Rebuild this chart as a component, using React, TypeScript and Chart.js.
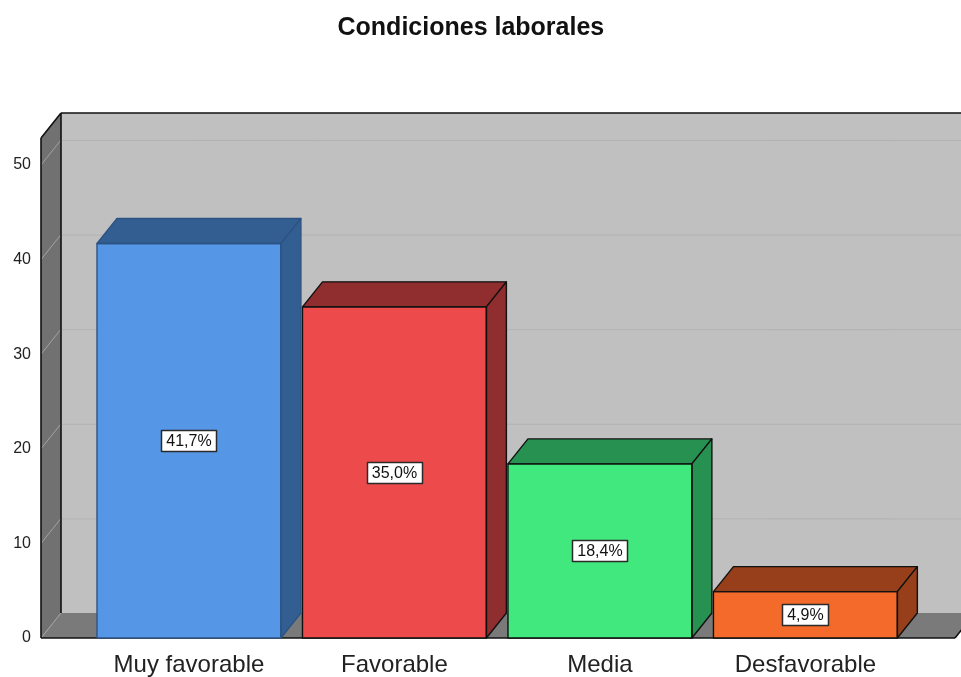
import React, { useEffect, useRef } from "react";
import { Chart, registerables } from "chart.js";

Chart.register(...registerables);

// Survey results: share of respondents per rating of working conditions
const TITLE = "Condiciones laborales";
const CATEGORIES = ["Muy favorable", "Favorable", "Media", "Desfavorable"];
const PERCENTAGES = [41.7, 35.0, 18.4, 4.9];
const Y_TICKS = [0, 10, 20, 30, 40, 50];

const FRONT_COLORS = ["#5596e6", "#ed4a4c", "#41e87e", "#f36a2b"];
const SHADE_COLORS = ["#335e91", "#8f2d2f", "#279151", "#963f1a"];
const EDGE_COLORS = ["#2c5384", "#111111", "#111111", "#111111"];

const FONT = "'Liberation Sans', Arial, sans-serif";
const DEPTH_X = 20;
const DEPTH_Y = 25;

const formatPct = (v: number) => v.toFixed(1).replace(".", ",") + "%";

function poly(ctx: CanvasRenderingContext2D, pts: number[][]) {
  ctx.beginPath();
  ctx.moveTo(pts[0][0], pts[0][1]);
  for (let i = 1; i < pts.length; i++) ctx.lineTo(pts[i][0], pts[i][1]);
  ctx.closePath();
}

function line(ctx: CanvasRenderingContext2D, x0: number, y0: number, x1: number, y1: number) {
  ctx.beginPath();
  ctx.moveTo(x0, y0);
  ctx.lineTo(x1, y1);
  ctx.stroke();
}

// Back wall, side wall, floor and grid of the 3D box
const boxPlugin = {
  id: "box3d",
  beforeDatasetsDraw(chart: any) {
    const { ctx, chartArea, scales } = chart;
    const { left, right, top, bottom } = chartArea;
    const yScale = scales.y;
    ctx.save();
    // back wall
    ctx.fillStyle = "#c0c0c0";
    ctx.fillRect(left + DEPTH_X, top - DEPTH_Y, right - left, bottom - top);
    // left wall
    ctx.fillStyle = "#717171";
    poly(ctx, [[left, top], [left + DEPTH_X, top - DEPTH_Y], [left + DEPTH_X, bottom - DEPTH_Y], [left, bottom]]);
    ctx.fill();
    // floor
    ctx.fillStyle = "#7a7a7a";
    poly(ctx, [[left, bottom], [left + DEPTH_X, bottom - DEPTH_Y], [right + DEPTH_X, bottom - DEPTH_Y], [right, bottom]]);
    ctx.fill();

    // grid lines
    ctx.lineWidth = 1;
    for (const v of Y_TICKS) {
      const py = yScale.getPixelForValue(v);
      if (v > 0) {
        ctx.strokeStyle = "#b2b2b2";
        line(ctx, left + DEPTH_X, py - DEPTH_Y + 0.5, right + DEPTH_X, py - DEPTH_Y + 0.5);
      }
      ctx.strokeStyle = "#a3a3a3";
      line(ctx, left, py, left + DEPTH_X, py - DEPTH_Y);
    }

    // box edges
    ctx.strokeStyle = "#111111";
    ctx.lineWidth = 1.6;
    line(ctx, left, top, left, bottom);
    line(ctx, left, bottom, right, bottom);
    line(ctx, left, top, left + DEPTH_X, top - DEPTH_Y);
    line(ctx, left + DEPTH_X, top - DEPTH_Y, right + DEPTH_X, top - DEPTH_Y);
    line(ctx, left + DEPTH_X, top - DEPTH_Y, left + DEPTH_X, bottom - DEPTH_Y);
    line(ctx, right, bottom, right + DEPTH_X, bottom - DEPTH_Y);
    ctx.restore();
  },
  afterDatasetsDraw(chart: any) {
    const { ctx } = chart;
    const meta = chart.getDatasetMeta(0);
    ctx.save();
    meta.data.forEach((bar: any, i: number) => {
      const { x, y, base, width } = bar.getProps(["x", "y", "base", "width"], true);
      const x0 = x - width / 2;
      const x1 = x + width / 2;
      ctx.fillStyle = SHADE_COLORS[i];
      ctx.strokeStyle = EDGE_COLORS[i];
      ctx.lineWidth = 1.4;
      ctx.lineJoin = "round";
      // top face
      poly(ctx, [[x0, y], [x0 + DEPTH_X, y - DEPTH_Y], [x1 + DEPTH_X, y - DEPTH_Y], [x1, y]]);
      ctx.fill();
      ctx.stroke();
      // side face
      poly(ctx, [[x1, y], [x1 + DEPTH_X, y - DEPTH_Y], [x1 + DEPTH_X, base - DEPTH_Y], [x1, base]]);
      ctx.fill();
      ctx.stroke();
      // front outline
      ctx.strokeRect(x0, y, width, base - y);
    });

    // value labels in the middle of each front face
    ctx.font = `16px ${FONT}`;
    ctx.textAlign = "center";
    ctx.textBaseline = "middle";
    meta.data.forEach((bar: any, i: number) => {
      const { x, y, base } = bar.getProps(["x", "y", "base"], true);
      const text = formatPct(PERCENTAGES[i]);
      const cy = (y + base) / 2;
      const w = Math.round(ctx.measureText(text).width) + 10;
      const h = 21;
      const bx = Math.round(x - w / 2) + 0.5;
      const by = Math.round(cy - h / 2) + 0.5;
      ctx.fillStyle = "#ffffff";
      ctx.fillRect(bx, by, w, h);
      ctx.strokeStyle = "#2a2a2a";
      ctx.lineWidth = 1.5;
      ctx.strokeRect(bx, by, w, h);
      ctx.fillStyle = "#111111";
      ctx.fillText(text, x, cy + 1);
    });
    ctx.restore();
  },
  afterDraw(chart: any) {
    const { ctx, width } = chart;
    ctx.save();
    ctx.font = `bold 25px ${FONT}`;
    ctx.fillStyle = "#111111";
    ctx.textAlign = "center";
    ctx.textBaseline = "alphabetic";
    ctx.fillText(TITLE, width * 0.49, 35);
    ctx.restore();
  },
};

export default function App() {
  const canvasRef = useRef<HTMLCanvasElement | null>(null);

  useEffect(() => {
    document.body.style.margin = "0";
    const canvas = canvasRef.current;
    if (!canvas) return;
    const chart = new Chart(canvas, {
      type: "bar",
      data: {
        datasets: [
          {
            data: PERCENTAGES.map((v, i) => ({ x: i, y: v })),
            backgroundColor: FRONT_COLORS,
            borderColor: EDGE_COLORS,
            borderWidth: 0,
            borderSkipped: false,
            barPercentage: 0.895,
            categoryPercentage: 1,
          },
        ],
      },
      options: {
        responsive: false,
        animation: false,
        layout: { padding: { top: 138, right: 6, left: 0, bottom: 0 } },
        plugins: {
          legend: { display: false },
          tooltip: { enabled: false },
          title: { display: false },
        },
        scales: {
          x: {
            type: "linear",
            offset: false,
            min: -0.72,
            max: 3.728,
            grid: { display: false, drawTicks: false, offset: false },
            border: { display: false },
            afterBuildTicks: (scale: any) => {
              scale.ticks = CATEGORIES.map((_, i) => ({ value: i }));
            },
            afterFit: (scale: any) => {
              scale.height = 39;
            },
            ticks: {
              autoSkip: false,
              maxRotation: 0,
              padding: 13,
              color: "#222222",
              font: { family: FONT, size: 24 },
              callback: (v: any) => CATEGORIES[Number(v)] ?? "",
            },
          },
          y: {
            type: "linear",
            min: 0,
            max: 52.85,
            grid: { display: false, drawTicks: false },
            border: { display: false },
            afterBuildTicks: (scale: any) => {
              scale.ticks = Y_TICKS.map((v) => ({ value: v }));
            },
            afterFit: (scale: any) => {
              scale.width = 41;
            },
            ticks: {
              padding: 10,
              color: "#222222",
              font: { family: FONT, size: 16 },
            },
          },
        },
      },
      plugins: [boxPlugin],
    } as any);
    return () => chart.destroy();
  }, []);

  return (
    <div style={{ width: 961, height: 677, background: "#ffffff" }}>
      <canvas ref={canvasRef} width={961} height={677} />
    </div>
  );
}
